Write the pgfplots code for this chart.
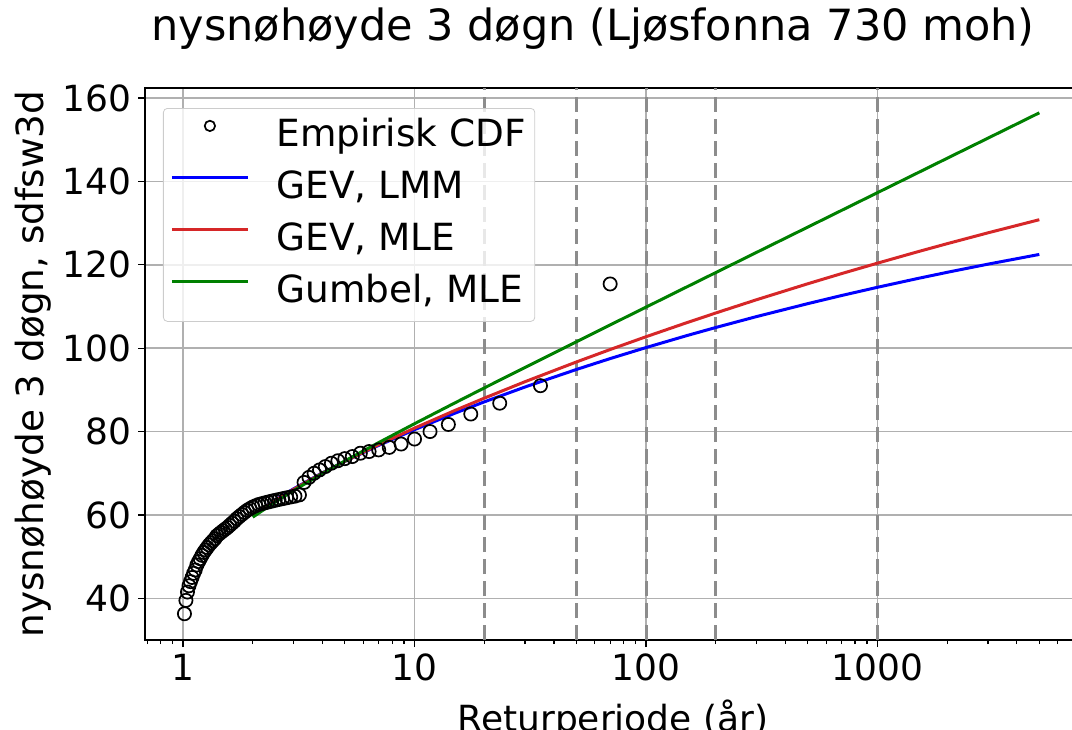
\documentclass[border=0pt]{standalone}
\usepackage{fontspec}
\setmainfont{DejaVu Sans}
\usepackage{pgfplots}
\usepackage{pgfplotstable}
\pgfplotsset{compat=1.18}
\definecolor{gevlmm}{HTML}{0000FF}
\definecolor{gevmle}{HTML}{D62728}
\definecolor{gumbel}{HTML}{008000}
\definecolor{gridgray}{HTML}{B0B0B0}
\definecolor{refgray}{HTML}{8C8C8C}

% empirisk: returperiode T = 70/m, verdi
\pgfplotstableread{
T y
70 115.4
35 91.0
23.333 86.8
17.5 84.2
14 81.7
11.667 80.0
10 78.2
8.75 77.0
7.778 76.2
7 75.6
6.364 75.2
5.833 74.8
5.385 74.0
5 73.5
4.667 73.0
4.375 72.4
4.118 71.6
3.889 70.8
3.684 70.0
3.5 69.0
3.333 67.8
3.182 64.8
3.043 64.5
2.917 64.3
2.8 64.1
2.692 63.9
2.593 63.7
2.5 63.5
2.414 63.3
2.333 63.1
2.258 62.9
2.188 62.7
2.121 62.5
2.059 62.2
2 61.9
1.944 61.5
1.892 61.1
1.842 60.6
1.795 60.1
1.75 59.6
1.707 59.1
1.667 58.5
1.628 58.0
1.591 57.5
1.556 57.0
1.522 56.6
1.489 56.2
1.458 55.8
1.429 55.4
1.4 55.0
1.373 54.3
1.346 53.8
1.321 53.3
1.296 52.8
1.273 52.2
1.25 51.6
1.228 51.0
1.207 50.3
1.186 49.5
1.167 48.8
1.148 48.0
1.129 46.8
1.111 46.0
1.094 45.0
1.077 44.0
1.061 43.0
1.045 41.5
1.029 39.5
1.014 36.3
}\empirisk

% tilpassede fordelinger (lest av figuren)
\pgfplotstableread{
T lmm mle gum
2 59.90 59.80 59.46
2.5 63.57 63.44 63.09
3 66.25 66.13 65.84
4 70.10 70.03 69.93
5 72.84 72.85 72.95
7 76.68 76.84 77.35
10 80.45 80.82 81.88
15 84.44 85.10 86.92
20 87.11 88.00 90.45
30 90.68 91.95 95.37
50 94.88 96.68 101.53
70 97.50 99.67 105.57
100 100.14 102.74 109.84
150 103.01 106.11 114.69
200 104.95 108.43 118.12
300 107.57 111.61 122.96
500 110.68 115.45 129.04
700 112.63 117.89 133.05
1000 114.60 120.39 137.30
1500 116.74 123.16 142.12
2000 118.19 125.06 145.55
3000 120.15 127.66 150.37
5000 122.48 130.81 156.45
}\modeller

\begin{document}
\begin{tikzpicture}
\begin{axis}[name=ax, scale only axis, width=468pt, height=276pt,
  xmode=log, xmin=0.685, xmax=7570, ymin=30, ymax=162.4,
  xtick={1,10,100,1000}, xticklabels={1,10,100,1000},
  minor xtick={0.7,0.8,0.9,2,3,4,5,6,7,8,9,20,30,40,50,60,70,80,90,200,300,400,500,600,700,800,900,2000,3000,4000,5000,6000,7000},
  ytick={40,60,80,100,120,140,160},
  /pgf/number format/assume math mode=true,
  tick label style={font=\fontsize{18}{18}\selectfont},
  grid=major, major grid style={line width=0.75pt, gridgray},
  axis line style={line width=0.6pt},
  tick style={line width=0.6pt, black},
  tick align=outside, xtick pos=bottom, ytick pos=left,
  major tick length=3.5pt, minor tick length=2pt,
  title={nysnøhøyde 3 døgn (Ljøsfonna 730 moh)},
  title style={font=\fontsize{21.5}{21.5}\selectfont, at={(axis description cs:0.4786,1)}, anchor=base, yshift=18pt},
  xlabel={Returperiode (år)},
  xlabel style={font=\fontsize{18}{18}\selectfont, at={(axis description cs:0.5,0)}, anchor=base, yshift=-45.5pt},
  ylabel={nysnøhøyde 3 døgn, sdfsw3d},
  ylabel style={font=\fontsize{18.7}{18.7}\selectfont, at={(axis description cs:-0.1197,0.5)}, anchor=center},
  legend style={at={(0,1)}, anchor=north west, xshift=9pt, yshift=-10pt,
    font=\fontsize{18.7}{18.7}\selectfont, draw=black!20, fill=white, fill opacity=0.8, text opacity=1,
    rounded corners=2pt, inner xsep=3.5pt, inner ysep=4pt, row sep=5.5pt, column sep=12.5pt,
    nodes={inner sep=1pt, text height=14pt, text depth=4.5pt}},
  legend cell align=left,
  legend image code/.code={\draw[#1] (0pt,5.5pt) -- (38pt,5.5pt);},
]
\addplot[refgray, line width=1.5pt, dash pattern=on 7.5pt off 3.5pt, forget plot] coordinates {(20,30) (20,162.4)};
\addplot[refgray, line width=1.5pt, dash pattern=on 7.5pt off 3.5pt, forget plot] coordinates {(50,30) (50,162.4)};
\addplot[refgray, line width=1.5pt, dash pattern=on 7.5pt off 3.5pt, forget plot] coordinates {(100,30) (100,162.4)};
\addplot[refgray, line width=1.5pt, dash pattern=on 7.5pt off 3.5pt, forget plot] coordinates {(200,30) (200,162.4)};
\addplot[refgray, line width=1.5pt, dash pattern=on 7.5pt off 3.5pt, forget plot] coordinates {(1000,30) (1000,162.4)};

\addplot[only marks, mark=o, mark size=3.3pt, mark options={line width=0.85pt, black},
  legend image code/.code={\draw[##1, mark size=2.6pt] plot coordinates {(19pt,5.5pt)};}]
  table[x=T, y=y] {\empirisk};
\addlegendentry{Empirisk CDF}
\addplot[gevlmm, line width=1.5pt, no marks] table[x=T, y=lmm] {\modeller};
\addlegendentry{GEV, LMM}
\addplot[gevmle, line width=1.5pt, no marks] table[x=T, y=mle] {\modeller};
\addlegendentry{GEV, MLE}
\addplot[gumbel, line width=1.5pt, no marks] table[x=T, y=gum] {\modeller};
\addlegendentry{Gumbel, MLE}
\end{axis}
\pgfresetboundingbox
\path[use as bounding box] (ax.south west) ++(-72.5pt,-44.5pt) rectangle ++(536pt,364.5pt);
\end{tikzpicture}
\end{document}
